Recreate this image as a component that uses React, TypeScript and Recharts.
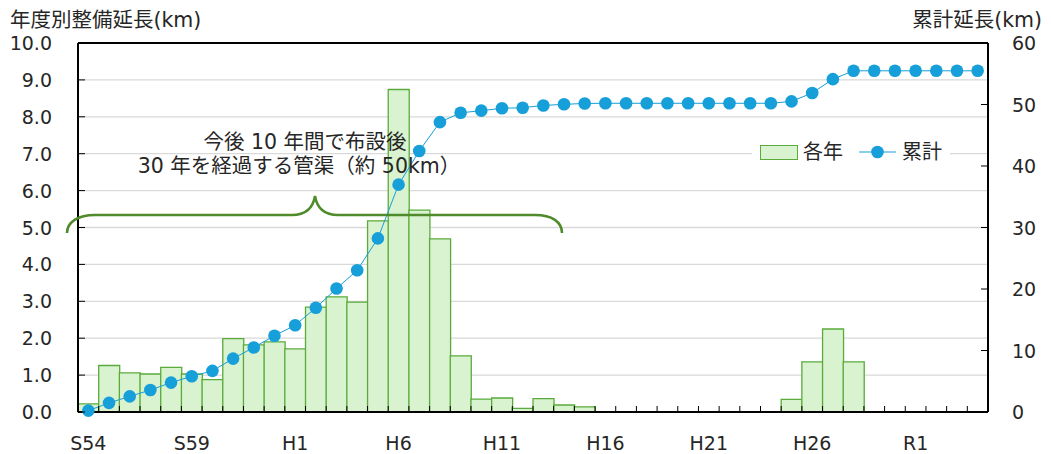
import { ComposedChart, Bar, Line, XAxis, YAxis, CartesianGrid, ReferenceLine, Legend } from 'recharts'

const years = [
  'S54', 'S55', 'S56', 'S57', 'S58', 'S59', 'S60', 'S61', 'S62', 'S63',
  'H1', 'H2', 'H3', 'H4', 'H5', 'H6', 'H7', 'H8', 'H9', 'H10',
  'H11', 'H12', 'H13', 'H14', 'H15', 'H16', 'H17', 'H18', 'H19', 'H20',
  'H21', 'H22', 'H23', 'H24', 'H25', 'H26', 'H27', 'H28', 'H29', 'H30',
  'R1', 'R2', 'R3', 'R4',
]

// 各年 (km)
const annual = [
  0.22, 1.26, 1.06, 1.03, 1.21, 1.03, 0.88, 1.99, 1.82, 1.9,
  1.71, 2.84, 3.12, 2.98, 5.18, 8.74, 5.47, 4.69, 1.52, 0.35,
  0.38, 0.1, 0.36, 0.19, 0.14, 0, 0, 0, 0, 0,
  0, 0, 0, 0, 0.34, 1.36, 2.25, 1.36, 0, 0,
  0, 0, 0, 0,
]

// 累計 (km)
const total = [
  0.22, 1.48, 2.54, 3.57, 4.78, 5.81, 6.69, 8.68, 10.5, 12.4,
  14.11, 16.95, 20.07, 23.05, 28.23, 36.97, 42.44, 47.13, 48.65, 49.0,
  49.38, 49.48, 49.84, 50.03, 50.17, 50.2, 50.2, 50.2, 50.2, 50.2,
  50.2, 50.2, 50.2, 50.2, 50.51, 51.87, 54.12, 55.48, 55.48, 55.48,
  55.48, 55.48, 55.48, 55.48,
]

const leftTicks = [0, 1, 2, 3, 4, 5, 6, 7, 8, 9, 10]
const rightTicks = [0, 10, 20, 30, 40, 50, 60]

const data = years.map((y, i) => ({ year: y, annual: annual[i], total: total[i] }))

const W = 1051
const H = 454
const PLOT_L = 78
const PLOT_R = 988
const PLOT_T = 43
const PLOT_B = 412
const BAND = (PLOT_R - PLOT_L) / years.length

const FONT = '"DejaVu Sans", Verdana, "Noto Sans CJK JP", sans-serif'
const TXT = '#262626'
const BLUE = '#169fd9'
const GREEN = '#5aab3b'
const GREEN_FILL = '#d9f2d0'

const LeftTick = (props: any) => {
  const { y, payload } = props
  return (
    <g>
      <line x1={PLOT_L} x2={PLOT_L + 7} y1={y} y2={y} stroke='#000' />
      <text x={52} y={y} textAnchor='end' dominantBaseline='central' fontSize={19} fill={TXT} fontFamily={FONT}>
        {Number(payload.value).toFixed(1)}
      </text>
    </g>
  )
}

const RightTick = (props: any) => {
  const { y, payload } = props
  return (
    <g>
      <line x1={PLOT_R - 7} x2={PLOT_R} y1={y} y2={y} stroke='#000' />
      <text x={1012} y={y} textAnchor='start' dominantBaseline='central' fontSize={19} fill={TXT} fontFamily={FONT}>
        {payload.value}
      </text>
    </g>
  )
}

const BottomTick = (props: any) => {
  const { x, payload, index } = props
  const left = x - BAND / 2
  return (
    <g>
      <line x1={left} x2={left} y1={PLOT_B - 6} y2={PLOT_B} stroke='#000' />
      {index % 5 === 0 && (
        <text x={x} y={443} textAnchor='middle' dominantBaseline='central' fontSize={19} fill={TXT} fontFamily={FONT}>
          {payload.value}
        </text>
      )}
    </g>
  )
}

const LegendBox = () => (
  <div
    style={{
      display: 'flex',
      alignItems: 'center',
      background: '#fff',
      padding: '6px 8px',
      fontFamily: FONT,
      fontSize: 20,
      lineHeight: '24px',
      color: TXT,
      width: 'max-content',
    }}
  >
    <span style={{ display: 'inline-block', width: 36, height: 13, background: GREEN_FILL, border: `1px solid ${GREEN}`, marginRight: 5 }} />
    <span style={{ marginRight: 16 }}>各年</span>
    <svg width={37} height={16} style={{ marginRight: 6 }}>
      <line x1={0} x2={37} y1={8} y2={8} stroke={BLUE} strokeWidth={1} />
      <circle cx={18.5} cy={8} r={6.3} fill={BLUE} />
    </svg>
    <span>累計</span>
  </div>
)

const App = () => {
  return (
    <div style={{ position: 'absolute', left: 0, top: 0, width: W, height: H, background: '#fff' }}>
      <ComposedChart
        width={W}
        height={H}
        data={data}
        margin={{ top: PLOT_T, right: 8, bottom: 0, left: 8 }}
        barCategoryGap={0}
      >
        <CartesianGrid yAxisId='left' vertical={false} stroke='#d9d9d9' strokeWidth={1.3} />
        <XAxis
          dataKey='year'
          height={H - PLOT_B}
          interval={0}
          tick={<BottomTick />}
          tickLine={false}
          axisLine={{ stroke: '#000', strokeWidth: 2 }}
        />
        <YAxis
          yAxisId='left'
          width={PLOT_L - 8}
          domain={[0, 10]}
          ticks={leftTicks}
          tick={<LeftTick />}
          tickLine={false}
          axisLine={{ stroke: '#000', strokeWidth: 2 }}
        />
        <YAxis
          yAxisId='right'
          orientation='right'
          width={W - 8 - PLOT_R}
          domain={[0, 60]}
          ticks={rightTicks}
          tick={<RightTick />}
          tickLine={false}
          axisLine={{ stroke: '#000', strokeWidth: 2 }}
        />
        <ReferenceLine yAxisId='left' y={10} stroke='#000' strokeWidth={2} />
        <Bar
          yAxisId='left'
          dataKey='annual'
          name='各年'
          fill={GREEN_FILL}
          stroke={GREEN}
          strokeWidth={1.3}
          isAnimationActive={false}
        />
        <Line
          yAxisId='right'
          dataKey='total'
          name='累計'
          stroke={BLUE}
          strokeWidth={1}
          dot={{ r: 6.3, fill: BLUE, stroke: 'none' }}
          activeDot={false}
          isAnimationActive={false}
        />
        <Legend
          layout='horizontal'
          verticalAlign='middle'
          align='center'
          content={<LegendBox />}
          wrapperStyle={{ position: 'absolute', left: 752, top: 134, width: 'auto' }}
        />
      </ComposedChart>
      <svg
        width={W}
        height={H}
        style={{ position: 'absolute', left: 0, top: 0, pointerEvents: 'none' }}
        fontFamily={FONT}
      >
        <text x={10} y={20} fontSize={20.5} fill={TXT} dominantBaseline='central'>年度別整備延長(km)</text>
        <text x={1042} y={20} fontSize={20.5} fill={TXT} textAnchor='end' dominantBaseline='central'>累計延長(km)</text>
        <text x={305} y={142} fontSize={20.5} fill={TXT} textAnchor='middle' dominantBaseline='central'>今後 10 年間で布設後</text>
        <text x={299} y={166} fontSize={20.5} fill={TXT} textAnchor='middle' dominantBaseline='central'>30 年を経過する管渠（約 50km）</text>
        <path
          d='M67,233 C67,222 78,215 95,215 L292,215 C306,215 313,208 315,196 C317,208 324,215 338,215 L535,215 C552,215 562,222 562,233'
          fill='none'
          stroke='#4f8a2b'
          strokeWidth={2.5}
        />
      </svg>
    </div>
  )
}

export default App
